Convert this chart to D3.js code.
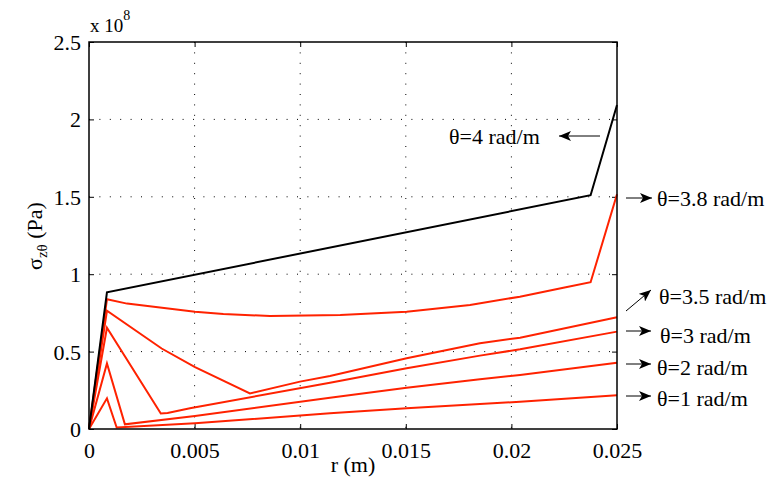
<!DOCTYPE html>
<html><head><meta charset="utf-8">
<script src="https://cdn.jsdelivr.net/npm/d3@7"></script>
<style>body{margin:0;background:#fff}svg{display:block}</style>
</head><body>
<svg id="c" width="772" height="488"></svg>
<script>
// r in metres, stress in units of 1e8 Pa
const r1 = [0, 0.00085, 0.00131, 0.00502, 0.01141, 0.01504, 0.01851, 0.02041, 0.025];
const v1 = [0, 0.198, 0.010, 0.037, 0.101, 0.134, 0.161, 0.176, 0.218];
const r2 = [0, 0.00085, 0.0017, 0.00502, 0.01141, 0.01504, 0.01851, 0.02041, 0.025];
const v2 = [0, 0.424, 0.030, 0.084, 0.202, 0.267, 0.321, 0.349, 0.428];
const r3 = [0, 0.00085, 0.0034, 0.00372, 0.00478, 0.01141, 0.01504, 0.01851, 0.02041, 0.025];
const v3 = [0, 0.654, 0.100, 0.103, 0.134, 0.299, 0.392, 0.474, 0.515, 0.629];
const r35 = [0, 0.00085, 0.00344, 0.00502, 0.00762, 0.00999, 0.01141, 0.01504, 0.01851, 0.02041, 0.025];
const v35 = [0, 0.764, 0.520, 0.400, 0.230, 0.306, 0.342, 0.457, 0.554, 0.590, 0.722];
const r38 = [0, 0.00085, 0.0018, 0.00502, 0.00636, 0.00857, 0.0119, 0.01504, 0.01804, 0.0204, 0.02246, 0.02375, 0.025];
const v38 = [0, 0.838, 0.810, 0.758, 0.743, 0.730, 0.736, 0.758, 0.801, 0.855, 0.913, 0.948, 1.516];
const r4 = [0, 0.00085, 0.02375, 0.025];
const v4 = [0, 0.883, 1.510, 2.093];

const xTicks = [0, 0.005, 0.01, 0.015, 0.02, 0.025];
const xTickLabels = ["0", "0.005", "0.01", "0.015", "0.02", "0.025"];
const yTicks = [0, 0.5, 1, 1.5, 2, 2.5];
const yTickLabels = ["0", "0.5", "1", "1.5", "2", "2.5"];

const seriesLabels = ["θ=1 rad/m", "θ=2 rad/m", "θ=3 rad/m", "θ=3.5 rad/m", "θ=3.8 rad/m", "θ=4 rad/m"];

const series = [
  {r: r1, v: v1, color: "#ff2200"},
  {r: r2, v: v2, color: "#ff2200"},
  {r: r3, v: v3, color: "#ff2200"},
  {r: r35, v: v35, color: "#ff2200"},
  {r: r38, v: v38, color: "#ff2200"},
  {r: r4, v: v4, color: "#000000"}
];

const L = 89, T = 42, W = 528, H = 387;
const svg = d3.select("#c");
const x = d3.scaleLinear().domain([0, 0.025]).range([L, L + W]);
const y = d3.scaleLinear().domain([0, 2.5]).range([T + H, T]);
const FONT = "Liberation Serif";

// grid
const g = svg.append("g");
g.selectAll("line.gx").data(xTicks.slice(1, -1)).enter().append("line")
  .attr("x1", d => x(d)).attr("x2", d => x(d)).attr("y1", T).attr("y2", T + H)
  .attr("stroke", "#000").attr("stroke-width", 1).attr("stroke-dasharray", "1,9.4");
g.selectAll("line.gy").data(yTicks.slice(1, -1)).enter().append("line")
  .attr("y1", d => y(d)).attr("y2", d => y(d)).attr("x1", L).attr("x2", L + W)
  .attr("stroke", "#000").attr("stroke-width", 1).attr("stroke-dasharray", "1,9.4");

// axes
const fs = 22;
const xAxis = d3.axisBottom(x).tickValues(xTicks).tickFormat((d, i) => xTickLabels[i]).tickSizeInner(-5).tickSizeOuter(0).tickPadding(13);
const yAxis = d3.axisLeft(y).tickValues(yTicks).tickFormat((d, i) => yTickLabels[i]).tickSizeInner(-5).tickSizeOuter(0).tickPadding(8);
const xa = svg.append("g").attr("transform", `translate(0,${T + H})`).call(xAxis);
const ya = svg.append("g").attr("transform", `translate(${L},0)`).call(yAxis);
const xt = svg.append("g").attr("transform", `translate(0,${T})`).call(d3.axisTop(x).tickValues(xTicks).tickFormat("").tickSizeInner(-5).tickSizeOuter(0));
const yr = svg.append("g").attr("transform", `translate(${L + W},0)`).call(d3.axisRight(y).tickValues(yTicks).tickFormat("").tickSizeInner(-5).tickSizeOuter(0));
[xa, ya, xt, yr].forEach(a => {
  a.attr("font-family", null).attr("font-size", null);
  a.select(".domain").remove();
  a.selectAll("line").attr("stroke", "#000").attr("stroke-width", 1);
  a.selectAll("text").attr("fill", "#000").style("font-family", FONT).style("font-size", fs + "px");
});
ya.selectAll("text").attr("dy", "0.34em");
xa.selectAll("text").attr("dy", "0.72em");

// lines
const line = d3.line().x(d => x(d[0])).y(d => y(d[1]));
series.forEach(s => {
  svg.append("path").datum(s.r.map((r, i) => [r, s.v[i]]))
    .attr("d", line).attr("fill", "none").attr("stroke", s.color).attr("stroke-width", 2)
    .attr("stroke-linejoin", "miter");
});

// box
svg.append("rect").attr("x", L).attr("y", T).attr("width", W).attr("height", H)
  .attr("fill", "none").attr("stroke", "#000").attr("stroke-width", 1.5);

function txt(sel) { return sel.style("font-family", FONT).attr("fill", "#000"); }

// exponent
const ex = txt(svg.append("text").attr("x", 90).attr("y", 32)).style("font-size", "19px");
ex.append("tspan").text("x 10");
ex.append("tspan").attr("dy", -12).style("font-size", "14px").text("8");

// axis labels
txt(svg.append("text").attr("x", x(0.0125)).attr("y", 472).attr("text-anchor", "middle")).style("font-size", fs + "px").text("r (m)");
const yl = txt(svg.append("text").attr("transform", "translate(42,236) rotate(-90)").attr("text-anchor", "middle")).style("font-size", fs + "px");
yl.append("tspan").text("σ");
yl.append("tspan").attr("dy", 5).style("font-size", "15px").text("zθ");
yl.append("tspan").attr("dy", -5).text(" (Pa)");

// annotations with arrows
svg.append("defs").append("marker").attr("id", "ah").attr("viewBox", "0 0 12 10")
  .attr("refX", 12).attr("refY", 5).attr("markerWidth", 12).attr("markerHeight", 10)
  .attr("markerUnits", "userSpaceOnUse").attr("orient", "auto")
  .append("path").attr("d", "M0,0 L12,5 L0,10 L3,5 Z").attr("fill", "#000");

const ann = [
  {i: 5, x1: 600, y1: 136, x2: 559, y2: 136, tx: 449, ty: 136},
  {i: 4, x1: 626, y1: 198, x2: 652, y2: 198, tx: 657, ty: 198},
  {i: 3, x1: 626, y1: 311, x2: 651, y2: 290, tx: 659, ty: 296},
  {i: 2, x1: 626, y1: 331, x2: 651, y2: 331, tx: 660, ty: 335},
  {i: 1, x1: 626, y1: 364, x2: 651, y2: 364, tx: 657, ty: 367},
  {i: 0, x1: 626, y1: 396, x2: 651, y2: 396, tx: 657, ty: 398}
];
ann.forEach(a => {
  svg.append("line").attr("x1", a.x1).attr("y1", a.y1).attr("x2", a.x2).attr("y2", a.y2)
    .attr("stroke", "#000").attr("stroke-width", 1).attr("marker-end", "url(#ah)");
  txt(svg.append("text").attr("x", a.tx).attr("y", a.ty).attr("dy", "0.35em")).style("font-size", fs + "px").text(seriesLabels[a.i]);
});
</script>
</body></html>
